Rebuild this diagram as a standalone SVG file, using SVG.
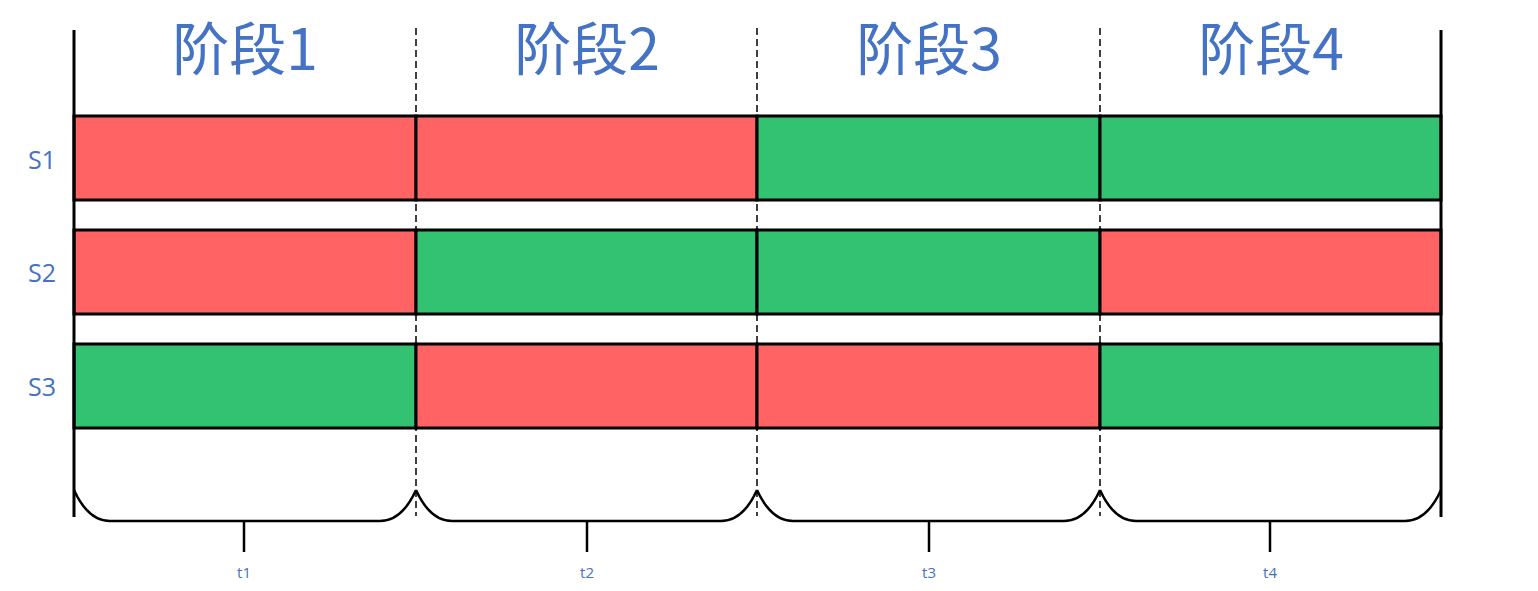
<svg xmlns="http://www.w3.org/2000/svg" width="1538" height="591" viewBox="0 0 1538 591">
<style>
.title{font-family:"Noto Sans CJK SC","Microsoft YaHei",sans-serif;font-size:57px;fill:#4472C4;text-anchor:middle}
.lab{font-family:"Open Sans","Noto Sans",sans-serif;font-size:25px;fill:#4472C4;text-anchor:middle}
.t{font-family:"Open Sans","Noto Sans",sans-serif;font-size:15px;fill:#4472C4;text-anchor:middle}
.r{fill:#FF6363;stroke:#000;stroke-width:3}
.g{fill:#33C172;stroke:#000;stroke-width:3}
.dash{stroke:#000;stroke-width:1.5;stroke-dasharray:7 4;fill:none}
.solid{stroke:#000;stroke-width:3;fill:none}
.brace{stroke:#000;stroke-width:2.5;fill:none}
</style>
<rect width="1538" height="591" fill="#fff"/>
<g id="titles">
<text class="title" x="245" y="70">阶段1</text>
<text class="title" x="587" y="70">阶段2</text>
<text class="title" x="929" y="70">阶段3</text>
<text class="title" x="1271" y="70">阶段4</text>
</g>
<g id="labels">
<text class="lab" x="42" y="169">S1</text>
<text class="lab" x="42" y="282">S2</text>
<text class="lab" x="42" y="396">S3</text>
</g>
<g id="connectors">
<line class="dash" x1="416" y1="28" x2="416" y2="516"/>
<line class="dash" x1="757" y1="28" x2="757" y2="516"/>
<line class="dash" x1="1100" y1="28" x2="1100" y2="516"/>
</g>
<g id="row-S1">
<rect class="r" x="74" y="116" width="342" height="84"/>
<rect class="r" x="416" y="116" width="341" height="84"/>
<rect class="g" x="757" y="116" width="343" height="84"/>
<rect class="g" x="1100" y="116" width="341" height="84"/>
</g>
<g id="row-S2">
<rect class="r" x="74" y="230" width="342" height="84"/>
<rect class="g" x="416" y="230" width="341" height="84"/>
<rect class="g" x="757" y="230" width="343" height="84"/>
<rect class="r" x="1100" y="230" width="341" height="84"/>
</g>
<g id="row-S3">
<rect class="g" x="74" y="344" width="342" height="84"/>
<rect class="r" x="416" y="344" width="341" height="84"/>
<rect class="r" x="757" y="344" width="343" height="84"/>
<rect class="g" x="1100" y="344" width="341" height="84"/>
</g>
<g id="axes">
<line class="solid" x1="74" y1="30" x2="74" y2="517"/>
<line class="solid" x1="1441" y1="30" x2="1441" y2="517"/>
</g>
<g id="braces">
<path class="brace" d="M74,490 C84,512 96,521 110,521 L380,521 C394,521 406,512 416,490"/>
<path class="brace" d="M416,490 C426,512 438,521 452,521 L721,521 C735,521 747,512 757,490"/>
<path class="brace" d="M757,490 C767,512 779,521 793,521 L1064,521 C1078,521 1090,512 1100,490"/>
<path class="brace" d="M1100,490 C1110,512 1122,521 1136,521 L1405,521 C1419,521 1431,512 1441,490"/>
<line class="brace" x1="244" y1="521" x2="244" y2="552"/>
<line class="brace" x1="587" y1="521" x2="587" y2="552"/>
<line class="brace" x1="929" y1="521" x2="929" y2="552"/>
<line class="brace" x1="1270" y1="521" x2="1270" y2="552"/>
</g>
<g id="t-labels">
<text class="t" x="244" y="578">t1</text>
<text class="t" x="587" y="578">t2</text>
<text class="t" x="929" y="578">t3</text>
<text class="t" x="1270" y="578">t4</text>
</g>
</svg>
